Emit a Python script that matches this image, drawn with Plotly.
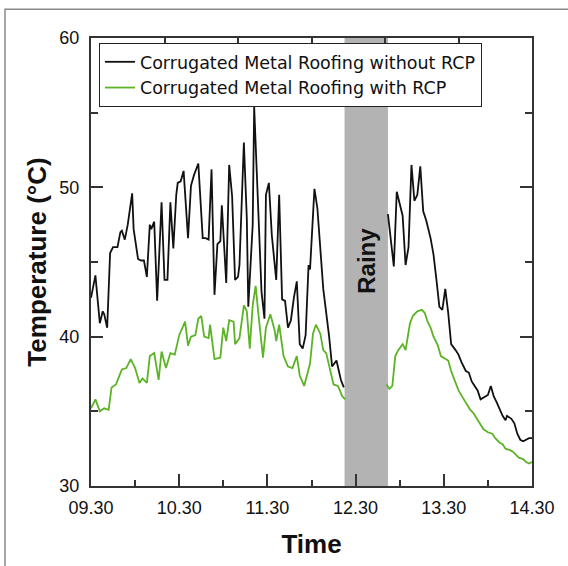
import pandas as pd
import plotly.graph_objects as go

# ---------------- data (minutes after 09:30, temperature in °C) ----------------
start_clock = "2000-01-01 09:30"
end_clock = "2000-01-01 14:30"
rainy_start = "2000-01-01 12:22:30"
rainy_end = "2000-01-01 12:52"

without_min = [0, 3, 6, 8, 9, 11, 13, 15, 18, 20, 21, 23, 25, 28, 29, 32, 34, 36, 38, 40,
               41, 43, 45, 48, 50, 52, 54, 56, 58, 59, 61, 63, 66, 68, 70, 73, 76, 78, 80, 82,
               84, 86, 88, 89, 92, 94, 96, 98, 100, 101, 104, 106, 107, 110, 111, 114, 116, 118,
               119, 121, 123, 126, 128, 130, 132, 134, 136, 138, 140, 142, 144, 146, 148, 149,
               152, 154, 156, 158, 162, 164, 167, 170, 172,
               187,
               202, 204, 206, 208, 210, 212, 214, 216, 218, 220, 222, 224, 226, 228, 231, 233,
               235, 237, 239, 241, 243, 245, 248, 250, 252, 255, 257, 259, 261, 263, 265, 268,
               270, 272, 274, 276, 278, 280, 282, 283, 286, 288, 290, 292, 294, 296, 298, 300]
without_rcp = [42.6, 44.1, 40.9, 41.7, 41.5, 40.6, 45.6, 46.0, 46.0, 47.0, 47.1, 46.5, 47.5, 49.6,
               47.2, 45.2, 45.1, 45.1, 44.0, 47.5, 47.2, 47.7, 42.4, 49.0, 43.8, 43.8, 49.0, 45.9,
               49.5, 50.3, 50.4, 51.1, 46.6, 50.1, 50.8, 51.6, 46.6, 46.6, 46.5, 51.2, 42.8, 46.2,
               46.4, 48.8, 43.6, 51.5, 49.4, 43.8, 44.0, 44.8, 53.0, 47.9, 42.0, 47.5, 55.4, 47.9,
               43.0, 41.2, 49.5, 50.3, 46.8, 43.8, 49.5, 42.5, 42.4, 40.6, 41.1, 42.6, 43.7, 39.5,
               39.2, 40.1, 44.8, 44.5, 49.9, 48.6, 46.1, 43.2, 40.0, 38.0, 38.4, 37.1, 36.6,
               None,
               48.2, 46.5, 44.7, 49.7, 48.8, 48.1, 44.8, 46.0, 51.5, 49.1, 49.5, 51.4, 48.4, 47.8,
               46.6, 45.5, 43.8, 42.0, 41.8, 43.2, 41.6, 39.5, 39.1, 38.8, 38.3, 37.7, 37.6, 37.0,
               36.7, 36.4, 35.8, 36.0, 36.1, 36.7, 36.0, 35.6, 35.1, 34.7, 34.4, 34.7, 34.5, 34.2,
               33.5, 33.1, 33.0, 33.1, 33.2, 33.2]

with_min = [0, 3, 6, 9, 12, 14, 17, 21, 24, 27, 30, 33, 35, 38, 40, 43, 46, 48, 51, 54,
            57, 60, 64, 66, 68, 71, 73, 75, 77, 80, 81, 84, 88, 90, 92, 94, 97, 98, 101, 104,
            106, 108, 110, 112, 114, 117, 119, 122, 125, 126, 128, 131, 134, 137, 140, 142,
            145, 149, 151, 153, 156, 158, 160, 162, 165, 168, 171, 173,
            187,
            201, 203, 205, 207, 209, 212, 214, 217, 219, 222, 225, 227, 229, 231, 233, 236,
            238, 241, 243, 245, 248, 250, 253, 255, 258, 260, 262, 265, 267, 270, 273, 275,
            278, 280, 282, 285, 287, 289, 291, 294, 296, 298, 300]
with_rcp = [35.2, 35.8, 35.0, 35.2, 35.1, 36.6, 36.8, 37.8, 37.9, 38.5, 37.9, 36.9, 37.2, 36.9,
            38.7, 38.9, 37.1, 39.0, 37.9, 38.9, 38.8, 40.1, 41.0, 39.4, 40.0, 40.1, 41.2, 41.4,
            40.0, 39.9, 40.8, 38.5, 38.6, 40.6, 39.7, 41.1, 41.0, 39.5, 39.9, 42.1, 41.7, 39.2,
            42.1, 43.4, 41.4, 38.6, 40.6, 41.5, 40.4, 39.7, 40.8, 38.7, 38.0, 37.9, 38.7, 37.4,
            36.7, 38.2, 40.2, 40.8, 40.2, 39.1, 38.9, 38.1, 36.8, 36.7, 36.0, 35.8,
            None,
            36.8, 36.5, 36.7, 38.7, 39.1, 39.5, 39.1, 40.9, 41.4, 41.7, 41.8, 41.6, 41.0, 40.6,
            40.0, 39.4, 38.7, 38.5, 38.4, 37.7, 36.9, 36.4, 35.9, 35.6, 35.1, 34.9, 34.6, 34.1,
            33.8, 33.6, 33.5, 33.2, 32.9, 32.8, 32.5, 32.4, 32.3, 32.1, 31.9, 31.8, 31.6, 31.5,
            31.6]

series_names = ["Corrugated Metal Roofing without RCP", "Corrugated Metal Roofing with RCP"]
series_colors = ["#111111", "#5BB325"]
y_ticks = [30, 40, 50, 60]
rainy_label = "Rainy"

# ---------------- figure ----------------
base = pd.Timestamp(start_clock)
x_without = [base + pd.Timedelta(minutes=m) for m in without_min]
x_with = [base + pd.Timedelta(minutes=m) for m in with_min]

fig = go.Figure()
fig.add_trace(go.Scatter(x=x_without, y=without_rcp, mode="lines", name=series_names[0],
                         line=dict(color=series_colors[0], width=1.8), connectgaps=False))
fig.add_trace(go.Scatter(x=x_with, y=with_rcp, mode="lines", name=series_names[1],
                         line=dict(color=series_colors[1], width=1.8), connectgaps=False))
# empty trace to host the secondary top axis
fig.add_trace(go.Scatter(x=[], y=[], xaxis="x2", showlegend=False, hoverinfo="skip"))

fig.add_shape(type="rect", xref="x", yref="paper", x0=rainy_start, x1=rainy_end, y0=0, y1=1,
              fillcolor="#b3b3b3", line=dict(width=0), layer="below")

mid = pd.Timestamp(rainy_start) + (pd.Timestamp(rainy_end) - pd.Timestamp(rainy_start)) / 2
fig.add_annotation(x=mid, y=45.1, xref="x", yref="y", text="<b>" + rainy_label + "</b>",
                   textangle=-90, showarrow=False,
                   font=dict(family="Liberation Sans", size=24, color="#111"))

# outer frame (top and left edges visible)
fig.add_shape(type="path", xref="paper", yref="paper",
              path="M -0.195 -0.3 L -0.195 1.0644 L 1.2 1.0644",
              line=dict(color="#8a8a8a", width=1.5))

axis_col = "#333333"
fig.update_layout(
    width=568, height=566,
    margin=dict(l=91, r=36, t=38, b=78),
    paper_bgcolor="white", plot_bgcolor="white",
    showlegend=True,
    legend=dict(x=0.018, y=0.989, xanchor="left", yanchor="top",
                bordercolor="#222", borderwidth=1, bgcolor="white",
                font=dict(family="DejaVu Sans", size=17.5, color="#111"),
                tracegroupgap=0, itemwidth=30),
    xaxis=dict(type="date", range=[start_clock, end_clock],
               tick0=start_clock, dtick=3600000, tickformat="%H.%M",
               ticks="inside", ticklen=12, tickwidth=1.5, tickcolor=axis_col,
               minor=dict(dtick=1800000, tick0=start_clock, ticks="inside", ticklen=6,
                          tickwidth=1.5, tickcolor=axis_col, showgrid=False),
               showline=True, linecolor=axis_col, linewidth=2, mirror=True,
               showgrid=False, zeroline=False, ticklabelstandoff=4,
               tickfont=dict(family="Liberation Sans", size=18, color="#111"),
               title=dict(text="<b>Time</b>", font=dict(family="Liberation Sans", size=26, color="#111"),
                          standoff=18)),
    xaxis2=dict(overlaying="x", side="top", anchor="y", range=[0, 6],
                tickvals=[1, 2, 3, 4, 5], ticks="inside", ticklen=8, tickwidth=1.5,
                tickcolor=axis_col, showticklabels=False, showgrid=False, zeroline=False,
                showline=False),
    yaxis=dict(range=[30, 60], tickvals=y_ticks,
               ticks="inside", ticklen=12, tickwidth=1.5, tickcolor=axis_col,
               minor=dict(dtick=5, ticks="inside", ticklen=7, tickwidth=1.5,
                          tickcolor=axis_col, showgrid=False),
               showline=True, linecolor=axis_col, linewidth=2, mirror="ticks",
               showgrid=False, zeroline=False, ticklabelstandoff=6,
               tickfont=dict(family="Liberation Sans", size=18, color="#111"),
               title=dict(text="<b>Temperature (°C)</b>",
                          font=dict(family="Liberation Sans", size=26, color="#111"),
                          standoff=5)),
)

fig.write_html("out.html", post_script="document.body.style.margin='0';",
               config={"displayModeBar": False})
